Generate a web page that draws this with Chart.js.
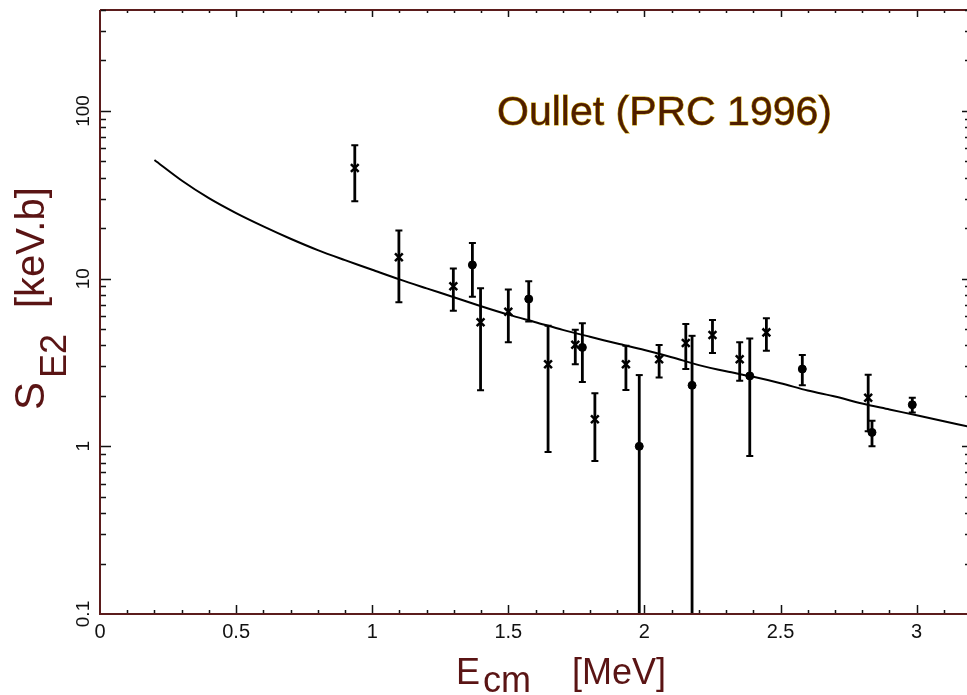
<!DOCTYPE html>
<html>
<head>
<meta charset="utf-8">
<title>S_E2 Oullet</title>
<script src="https://cdn.jsdelivr.net/npm/chart.js@4.4.1/dist/chart.umd.min.js"></script>
<style>
  html, body { margin: 0; padding: 0; background: #fff; }
  canvas { display: block; }
</style>
</head>
<body>
<canvas id="myChart" width="967" height="695"></canvas>
<script>
// theory curve
const curveE = [0.2, 0.3, 0.4, 0.5, 0.6, 0.7, 0.8, 0.9, 1.0, 1.1, 1.2, 1.3, 1.4, 1.5, 1.6, 1.7,
  1.8, 1.9, 2.0, 2.1, 2.2, 2.3, 2.4, 2.5, 2.6, 2.7, 2.8, 2.9, 3.0, 3.1, 3.2];
const curveS = [51, 38.5, 30.2, 24.6, 20.5, 17.3, 14.8, 12.9, 11.3, 9.9, 8.75, 7.75, 6.85, 6.1, 5.5, 4.95,
  4.5, 4.1, 3.75, 3.4, 3.05, 2.8, 2.6, 2.38, 2.15, 1.98, 1.8, 1.66, 1.53, 1.41, 1.3];

// data points drawn with crosses
const crossE  = [0.936, 1.098, 1.298, 1.398, 1.50, 1.646, 1.746, 1.818, 1.932, 2.054, 2.152, 2.250, 2.350, 2.448, 2.822];
const crossS  = [45.7, 13.4, 9.0, 5.49, 6.35, 3.09, 4.03, 1.45, 3.09, 3.31, 4.13, 4.61, 3.31, 4.78, 1.95];
const crossLo = [28.9, 7.22, 6.44, 2.16, 4.17, 0.925, 3.09, 0.817, 2.17, 2.57, 2.89, 3.6, 2.46, 3.71, 1.23];
const crossHi = [62.4, 19.4, 11.5, 8.76, 8.6, 5.24, 4.96, 2.07, 3.98, 4.02, 5.36, 5.66, 4.17, 5.80, 2.67];

// data points drawn with dots
const dotE  = [1.368, 1.575, 1.772, 1.981, 2.175, 2.387, 2.580, 2.836, 2.984];
const dotS  = [12.08, 7.56, 3.89, 1.0, 2.31, 2.63, 2.89, 1.21, 1.77];
const dotLo = [7.8, 5.56, 2.42, 0.05, 0.05, 0.875, 2.31, 1.0, 1.59];
const dotHi = [16.3, 9.65, 5.41, 2.66, 4.56, 4.40, 3.50, 1.42, 1.95];

// axis ticks
const xTickLabels = [0, 0.5, 1, 1.5, 2, 2.5, 3];
const yTickLabels = [0.1, 1, 10, 100];

const axisColor = '#5b1c1c';
const titleColor = '#5a1414';
const font = '"Liberation Sans", Arial, Helvetica, sans-serif';

const errorBars = {
  id: 'errorBars',
  beforeDatasetsDraw(chart) {
    const { ctx, chartArea, scales } = chart;
    ctx.save();
    ctx.beginPath();
    ctx.rect(chartArea.left, chartArea.top, chartArea.right - chartArea.left, chartArea.bottom - chartArea.top);
    ctx.clip();
    ctx.strokeStyle = '#000';
    const draw = (es, lo, hi) => {
      for (let i = 0; i < es.length; i++) {
        const px = scales.x.getPixelForValue(es[i]);
        const y1 = scales.y.getPixelForValue(lo[i]);
        const y2 = scales.y.getPixelForValue(hi[i]);
        ctx.lineWidth = 2.8;
        ctx.beginPath();
        ctx.moveTo(px, y1); ctx.lineTo(px, y2);
        ctx.stroke();
        ctx.lineWidth = 2;
        ctx.beginPath();
        ctx.moveTo(px - 3.5, y2); ctx.lineTo(px + 3.5, y2);
        if (y1 < chartArea.bottom) { ctx.moveTo(px - 3.5, y1); ctx.lineTo(px + 3.5, y1); }
        ctx.stroke();
      }
    };
    draw(crossE, crossLo, crossHi);
    draw(dotE, dotLo, dotHi);
    ctx.restore();
  }
};

const frame = {
  id: 'frame',
  afterDraw(chart) {
    const { ctx, chartArea: a, scales } = chart;
    const xs = scales.x, ys = scales.y;
    ctx.save();
    // border
    ctx.strokeStyle = axisColor;
    ctx.lineWidth = 2;
    ctx.beginPath();
    ctx.moveTo(a.left, a.top); ctx.lineTo(a.right, a.top);
    ctx.moveTo(a.left, a.top); ctx.lineTo(a.left, a.bottom); ctx.lineTo(a.right, a.bottom);
    ctx.stroke();

    // x ticks, inside
    ctx.strokeStyle = '#111';
    ctx.lineWidth = 1.5;
    ctx.beginPath();
    for (let k = 1; k <= 31; k++) {
      const v = k / 10;
      const px = Math.round(xs.getPixelForValue(v)) + 0.5;
      const major = k % 5 === 0;
      ctx.moveTo(px, a.bottom - 1); ctx.lineTo(px, a.bottom - (major ? 9 : 4));
      ctx.moveTo(px, a.top + 1); ctx.lineTo(px, a.top + (major ? 7 : 3));
    }
    // y ticks, inside
    for (let d = -1; d <= 2; d++) {
      for (let m = 1; m <= 9; m++) {
        const v = m * Math.pow(10, d);
        if (v > ys.max || (d === -1 && m === 1)) continue;
        const py = Math.round(ys.getPixelForValue(v)) + 0.5;
        const major = m === 1;
        ctx.moveTo(a.left + 1, py); ctx.lineTo(a.left + (major ? 11 : 6), py);
        ctx.moveTo(a.right, py); ctx.lineTo(a.right - (major ? 5 : 2), py);
      }
    }
    ctx.stroke();

    // tick labels
    ctx.fillStyle = '#111';
    ctx.font = '20px ' + font;
    ctx.textAlign = 'center';
    ctx.textBaseline = 'alphabetic';
    xTickLabels.forEach(v => {
      ctx.fillText(String(v), xs.getPixelForValue(v), 638);
    });
    ctx.font = '19px ' + font;
    yTickLabels.forEach(v => {
      ctx.save();
      ctx.translate(89, ys.getPixelForValue(v));
      ctx.rotate(-Math.PI / 2);
      ctx.fillText(String(v), 0, 0);
      ctx.restore();
    });

    // y title
    ctx.fillStyle = titleColor;
    ctx.textAlign = 'left';
    ctx.save();
    ctx.translate(44, 410);
    ctx.rotate(-Math.PI / 2);
    ctx.font = '42px ' + font;
    ctx.fillText('S', 0, 0);
    const sw = ctx.measureText('S').width;
    ctx.font = '36px ' + font;
    ctx.fillText('E2', sw + 4, 22);
    ctx.font = '40px ' + font;
    ctx.fillText('[keV.b]', 102, 0);
    ctx.restore();

    // x title
    ctx.font = '36px ' + font;
    ctx.fillText('E', 456, 684);
    ctx.fillText('cm', 483, 692);
    ctx.fillText('[MeV]', 572, 684);

    // label in the plot
    ctx.font = '41px ' + font;
    ctx.lineWidth = 1;
    ctx.strokeStyle = '#c9a200';
    ctx.strokeText('Oullet (PRC 1996)', 497, 125);
    ctx.fillStyle = '#4f1d00';
    ctx.fillText('Oullet (PRC 1996)', 497, 125);
    ctx.restore();
  }
};

const myChart = document.getElementById('myChart').getContext('2d');
const newChart = new Chart(myChart, {
  type: 'scatter',
  data: {
    datasets: [
      {
        type: 'line',
        label: 'theory',
        data: curveE.map((e, i) => ({ x: e, y: curveS[i] })),
        borderColor: '#000',
        borderWidth: 2,
        pointRadius: 0,
        tension: 0.3
      },
      {
        label: 'cross',
        data: crossE.map((e, i) => ({ x: e, y: crossS[i] })),
        pointStyle: 'crossRot',
        pointRadius: 5.5,
        borderColor: '#000',
        borderWidth: 2.5
      },
      {
        label: 'dot',
        data: dotE.map((e, i) => ({ x: e, y: dotS[i] })),
        pointStyle: 'circle',
        pointRadius: 4,
        backgroundColor: '#000',
        borderColor: '#000',
        borderWidth: 1
      }
    ]
  },
  options: {
    responsive: false,
    animation: false,
    events: [],
    layout: { autoPadding: false, padding: { left: 100, top: 10, right: 0, bottom: 81 } },
    plugins: { legend: { display: false }, tooltip: { enabled: false } },
    scales: {
      x: {
        type: 'linear', min: 0, max: 3.185,
        ticks: { display: false },
        grid: { display: false, drawTicks: false },
        border: { display: false }
      },
      y: {
        type: 'logarithmic', min: 0.1, max: 400,
        ticks: { display: false },
        grid: { display: false, drawTicks: false },
        border: { display: false }
      }
    }
  },
  plugins: [errorBars, frame]
});
</script>
</body>
</html>
